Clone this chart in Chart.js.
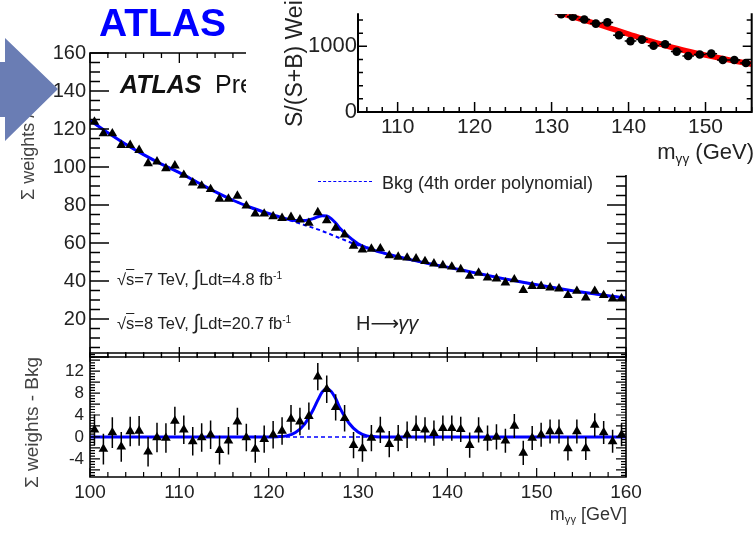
<!DOCTYPE html>
<html><head><meta charset="utf-8">
<script src="https://cdn.jsdelivr.net/npm/chart.js@4.4.1/dist/chart.umd.min.js"></script>
<style>
html,body{margin:0;padding:0;background:#fff;}
#stage{position:relative;width:756px;height:534px;overflow:hidden;font-family:"Liberation Sans",Arial,Helvetica,sans-serif;color:#222;background:#fff;}
canvas{position:absolute;left:0;top:0;}
.t{position:absolute;white-space:nowrap;}
.rot{transform:rotate(-90deg);transform-origin:left top;}
.sup{font-size:0.62em;vertical-align:0.55em;line-height:0;}
.sub{font-size:0.62em;vertical-align:-0.3em;line-height:0;}
.ov{text-decoration:overline;}
</style></head>
<body><div id="stage">
<canvas id="cTop" width="756" height="534" style="width:756px;height:534px;z-index:1"></canvas>
<canvas id="cBot" width="756" height="534" style="width:756px;height:534px;z-index:1"></canvas>

<div class="t rot" style="left:19px;top:200px;font-size:18px;line-height:18px;color:#444;z-index:2">Σ weights / GeV</div>
<div class="t rot" style="left:22px;top:488px;font-size:19px;line-height:19px;color:#444;z-index:2">Σ weights - Bkg</div>
<div class="t" style="right:129px;top:505px;font-size:18px;line-height:18px;color:#333;z-index:2">m<span class="sub">γγ</span> [GeV]</div>

<div class="t" style="left:120px;top:72px;font-size:25px;line-height:25px;color:#111;z-index:2"><b><i>ATLAS</i></b></div>
<div class="t" style="left:215px;top:72px;font-size:25px;line-height:25px;color:#111;z-index:2">Preliminary</div>

<div class="t" style="left:117px;top:271px;font-size:16.5px;line-height:17px;color:#222;z-index:2">√<span class="ov">s</span>=7 TeV, <span style="font-size:1.25em;line-height:0">∫</span>Ldt=4.8 fb<span class="sup">-1</span></div>
<div class="t" style="left:117px;top:315px;font-size:16.5px;line-height:17px;color:#222;z-index:2">√<span class="ov">s</span>=8 TeV, <span style="font-size:1.25em;line-height:0">∫</span>Ldt=20.7 fb<span class="sup">-1</span></div>
<div class="t" style="left:356px;top:313px;font-size:20px;line-height:20px;color:#222;z-index:2">H<span style="font-family:'DejaVu Sans';letter-spacing:-1px">⟶</span><i>γγ</i></div>

<div class="t" style="left:318px;top:181px;width:54px;height:0;border-top:1.5px dashed #0000ff;z-index:2"></div>
<div class="t" style="left:382px;top:174px;font-size:18px;line-height:18px;color:#222;z-index:2">Bkg (4th order polynomial)</div>

<div id="inset" style="position:absolute;left:246px;top:0;width:510px;height:175px;background:#fff;overflow:hidden;z-index:3">
  <canvas id="cIns" width="510" height="175" style="width:510px;height:175px"></canvas>
  <div class="t rot" style="left:37px;top:127px;font-size:23px;line-height:23px;color:#222">S/(S+B) Weighted Events / 1.5 GeV</div>
  <div class="t" style="right:2px;top:141px;font-size:22px;line-height:22px;color:#222">m<span class="sub">γγ</span> (GeV)</div>
</div>

<svg style="position:absolute;left:0;top:0;z-index:4" width="70" height="160">
  <polygon points="0,62 5,62 5,38 58,89 5,141 5,117 0,117" fill="#6a7db4"/>
</svg>
<div class="t" style="left:99px;top:3px;font-size:39px;line-height:39px;font-weight:bold;color:#0000ff;z-index:4">ATLAS</div>
</div>

<script>
// ---------------- data ----------------
const massBins = [100.5,101.5,102.5,103.5,104.5,105.5,106.5,107.5,108.5,109.5,
  110.5,111.5,112.5,113.5,114.5,115.5,116.5,117.5,118.5,119.5,
  120.5,121.5,122.5,123.5,124.5,125.5,126.5,127.5,128.5,129.5,
  130.5,131.5,132.5,133.5,134.5,135.5,136.5,137.5,138.5,139.5,
  140.5,141.5,142.5,143.5,144.5,145.5,146.5,147.5,148.5,149.5,
  150.5,151.5,152.5,153.5,154.5,155.5,156.5,157.5,158.5,159.5];
const sumWeights = [123.7,117.6,117.6,111.5,111.5,108.9,101.9,102.8,99.3,100.7,
  95.8,91.8,90.1,88.3,83.2,83.2,84.8,79.6,75.4,75.4,
  74.0,73.1,73.6,72.3,70.5,76.1,71.9,67.9,64.4,58.5,
  56.5,56.9,57.1,53.4,52.7,52.2,51.8,50.4,49.1,48.2,
  47.5,46.1,42.6,44.3,41.7,41.2,39.1,40.8,35.2,37.3,
  37.3,36.5,36.0,32.5,34.7,31.2,34.7,32.5,30.7,30.7];
const residuals = [1.3,-2.2,0.8,-1.8,1.0,1.1,-2.7,-0.1,-0.2,2.9,
  1.3,-0.8,-0.1,0.4,-2.4,-0.7,2.8,-0.1,-2.2,-0.4,
  0.4,1.1,3.3,2.8,3.8,11.0,8.7,5.4,3.4,-1.5,
  -2.1,-0.2,1.3,-1.3,-0.2,0.4,1.6,1.3,0.7,1.6,
  1.6,1.4,-1.5,1.3,-0.2,0.0,-0.7,2.0,-2.9,-0.2,
  0.4,1.0,1.0,-2.1,1.0,-2.1,2.2,0.8,-0.8,0.4];
const binErrors = [2.8,2.8,2.8,2.7,2.7,2.7,2.7,2.7,2.7,2.6,
  2.6,2.6,2.6,2.6,2.6,2.5,2.5,2.5,2.5,2.5,
  2.5,2.5,2.5,2.5,2.5,2.5,2.5,2.4,2.4,2.4,
  2.4,2.4,2.4,2.4,2.4,2.4,2.3,2.3,2.3,2.3,
  2.3,2.3,2.3,2.3,2.3,2.3,2.2,2.2,2.2,2.2,
  2.2,2.2,2.2,2.2,2.2,2.1,2.1,2.1,2.1,2.1];

const bkgX = [100,102,104,106,108,110,112,114,116,118,120,122,124,126,128,130,132,134,136,138,140,142,144,146,148,150,152,154,156,158,160];
const bkgY = [124.5,118,112,106.5,101.5,97,92,87,82.5,78.7,75.5,72.5,69.5,66.3,62.5,58.8,55.8,53.3,51.1,49.1,47.3,45.4,43.4,41.5,39.7,38,36.4,34.9,33.5,32.2,31];

const sbX = [100,102,104,106,108,110,112,114,116,118,120,121,122,123,124,125,125.5,126,126.5,127,127.5,128,129,130,131,132,134,136,138,140,142,144,146,148,150,152,154,156,158,160];
const sbY = [124.5,118,112,106.5,101.5,97,92,87,82.5,78.7,75.5,74.1,72.7,71.8,71.8,72.8,73.8,74.4,74.2,72.8,70.5,67.6,63.2,59.6,57.5,55.85,53.3,51.1,49.1,47.3,45.4,43.4,41.5,39.7,38,36.4,34.9,33.5,32.2,31];

const sigX = [100,120,121,122,123,124,125,125.5,126,126.5,127,127.5,128,129,130,131,132,133,160];
const sigY = [0,0,0.05,0.2,0.8,2.3,5.0,6.7,8.2,8.8,8.3,7.0,5.2,2.5,0.9,0.2,0.05,0,0];
const zeroX = [100,160];
const zeroY = [0,0];

const yTicksTop = [20,40,60,80,100,120,140,160];
const yTicksBot = [-4,0,4,8,12];
const xTicksMass = [100,110,120,130,140,150,160];

// inset (S/(S+B) weighted)
const insMass = [131.25,132.75,134.25,135.75,137.25,138.75,140.25,141.75,143.25,144.75,146.25,147.75,149.25,150.75,152.25,153.75,155.25];
const insW = [1489,1453,1409,1347,1365,1169,1080,1103,1009,1032,920,853,876,889,792,792,747];
const insErr = [45,45,44,44,44,42,42,42,40,40,40,38,38,38,36,36,36];
const insHalfBin = [0.75,0.75,0.75,0.75,0.75,0.75,0.75,0.75,0.75,0.75,0.75,0.75,0.75,0.75,0.75,0.75,0.75];
const insFitX = [128,130,132,134,136,138,140,142,144,146,148,150,152,154,156,158];
const insFitY = [1610,1545,1478,1408,1337,1263,1188,1110,1040,975,918,866,818,772,728,690];
const insTicksX = [110,120,130,140,150];
const insTicksY = [0,1000];

// ---------------- helpers ----------------
const FONT = '"Liberation Sans", Arial, Helvetica, sans-serif';
const pts = (xs, ys) => xs.map((x, i) => ({x: x, y: ys[i]}));
const plain = v => String(v);
function steps(a, b, s){ const o=[]; for(let v=a; v<=b+1e-9; v+=s) o.push(Math.round(v*1000)/1000); return o; }

const rootFrame = {
  id: 'rootFrame',
  afterDatasetsDraw(chart, args, o){
    if(!o || !o.on) return;
    const ctx = chart.ctx, a = chart.chartArea, sx = chart.scales.x, sy = chart.scales.y;
    ctx.save();
    ctx.strokeStyle = '#000';
    ctx.lineWidth = o.tickWidth;
    ctx.beginPath();
    const xt = (vals, len) => vals.forEach(v => {
      const p = sx.getPixelForValue(v);
      if (p < a.left - 0.5 || p > a.right + 0.5) return;
      if (o.bottom) { ctx.moveTo(p, a.bottom); ctx.lineTo(p, a.bottom - len); }
      if (o.top) { ctx.moveTo(p, a.top); ctx.lineTo(p, a.top + len); }
    });
    const yt = (vals, len) => vals.forEach(v => {
      const p = sy.getPixelForValue(v);
      if (p < a.top - 0.5 || p > a.bottom + 0.5) return;
      if (o.left) { ctx.moveTo(a.left, p); ctx.lineTo(a.left + len, p); }
      if (o.right) { ctx.moveTo(a.right, p); ctx.lineTo(a.right - len, p); }
    });
    xt(o.xMinor, o.xMinorLen); xt(o.xMajor, o.xMajorLen);
    yt(o.yMinor, o.yMinorLen); yt(o.yMajor, o.yMajorLen);
    ctx.stroke();
    ctx.lineWidth = o.frameWidth;
    ctx.lineCap = 'square';
    ctx.beginPath();
    if (o.left) { ctx.moveTo(a.left, a.top); ctx.lineTo(a.left, a.bottom); }
    if (o.right) { ctx.moveTo(a.right, a.top); ctx.lineTo(a.right, a.bottom); }
    if (o.bottom) { ctx.moveTo(a.left, a.bottom); ctx.lineTo(a.right, a.bottom); }
    if (o.top) { ctx.moveTo(a.left, a.top); ctx.lineTo(a.right, a.top); }
    ctx.stroke();
    ctx.restore();
  }
};

const errBars = {
  id: 'errBars',
  afterDatasetsDraw(chart, args, o){
    if(!o || !o.sets) return;
    const ctx = chart.ctx, a = chart.chartArea, sx = chart.scales.x, sy = chart.scales.y;
    ctx.save();
    ctx.beginPath(); ctx.rect(a.left, a.top, a.right - a.left, a.bottom - a.top); ctx.clip();
    ctx.strokeStyle = o.color || '#000'; ctx.lineWidth = o.width || 1.5;
    ctx.beginPath();
    o.sets.forEach(s => {
      s.x.forEach((xv, i) => {
        const px = sx.getPixelForValue(xv), py = sy.getPixelForValue(s.y[i]);
        const e = s.yErr[i];
        ctx.moveTo(px, sy.getPixelForValue(s.y[i] - e));
        ctx.lineTo(px, sy.getPixelForValue(s.y[i] + e));
        if (s.xErr) {
          ctx.moveTo(sx.getPixelForValue(xv - s.xErr[i]), py);
          ctx.lineTo(sx.getPixelForValue(xv + s.xErr[i]), py);
        }
      });
    });
    ctx.stroke();
    ctx.restore();
  }
};

const baseOpts = { responsive:false, animation:false, events:[], devicePixelRatio:1 };

// ---------------- upper panel ----------------
new Chart(document.getElementById('cTop'), {
  type: 'scatter',
  data: { datasets: [
    { label:'Data', data: pts(massBins, sumWeights), showLine:false, pointStyle:'triangle', pointRadius:5.6,
      pointBackgroundColor:'#000', pointBorderColor:'#000', pointBorderWidth:0 },
    { label:'Sig+Bkg Fit', data: pts(sbX, sbY), showLine:true, borderColor:'#0000ff', borderWidth:3,
      pointRadius:0, cubicInterpolationMode:'monotone' },
    { label:'Bkg (4th order polynomial)', data: pts(bkgX, bkgY), showLine:true, borderColor:'#0000ff', borderWidth:2,
      borderDash:[4,3], pointRadius:0, cubicInterpolationMode:'monotone' }
  ]},
  options: Object.assign({}, baseOpts, {
    layout: { padding: { left:40, top:53, right:130, bottom:177 } },
    scales: {
      x: { type:'linear', min:100, max:160, display:false },
      y: { type:'linear', min:0, max:160,
           afterBuildTicks: s => { s.ticks = yTicksTop.map(v => ({value:v})); },
           afterFit: s => { s.width = 50; },
           grid:{display:false, drawTicks:false}, border:{display:false},
           ticks:{ font:{family:FONT, size:20}, color:'#222', padding:4, callback: plain } }
    },
    plugins: {
      legend:{display:false}, tooltip:{enabled:false},
      rootFrame:{ on:true, left:true, right:true, top:true, bottom:true, frameWidth:1.6, tickWidth:1.3,
        xMajor: xTicksMass, xMajorLen:10, xMinor: steps(100,160,2), xMinorLen:5,
        yMajor: steps(0,160,20), yMajorLen:19, yMinor: steps(0,160,5), yMinorLen:10 }
    }
  }),
  plugins:[rootFrame]
});

// ---------------- lower panel ----------------
new Chart(document.getElementById('cBot'), {
  type: 'scatter',
  data: { datasets: [
    { label:'Data - Bkg', data: pts(massBins, residuals), showLine:false, pointStyle:'triangle', pointRadius:5.6,
      pointBackgroundColor:'#000', pointBorderColor:'#000', pointBorderWidth:0 },
    { label:'Signal', data: pts(sigX, sigY), showLine:true, borderColor:'#0000ff', borderWidth:3,
      pointRadius:0, cubicInterpolationMode:'monotone' },
    { label:'Bkg', data: pts(zeroX, zeroY), showLine:true, borderColor:'#0000ff', borderWidth:1.6,
      borderDash:[4,3], pointRadius:0 }
  ]},
  options: Object.assign({}, baseOpts, {
    layout: { padding: { left:40, top:353, right:130, bottom:17 } },
    scales: {
      x: { type:'linear', min:100, max:160,
           afterBuildTicks: s => { s.ticks = xTicksMass.map(v => ({value:v})); },
           afterFit: s => { s.height = 40; },
           grid:{display:false, drawTicks:false}, border:{display:false},
           ticks:{ font:{family:FONT, size:19}, color:'#222', padding:4, autoSkip:false, maxRotation:0, callback: plain } },
      y: { type:'linear', min:-7.3, max:15.3,
           afterBuildTicks: s => { s.ticks = yTicksBot.map(v => ({value:v})); },
           afterFit: s => { s.width = 50; },
           grid:{display:false, drawTicks:false}, border:{display:false},
           ticks:{ font:{family:FONT, size:17}, color:'#222', padding:6, callback: plain } }
    },
    plugins: {
      legend:{display:false}, tooltip:{enabled:false},
      rootFrame:{ on:true, left:true, right:true, top:true, bottom:true, frameWidth:1.6, tickWidth:1.2,
        xMajor: xTicksMass, xMajorLen:9, xMinor: steps(100,160,2), xMinorLen:5,
        yMajor: steps(-6,14,2), yMajorLen:10, yMinor: steps(-7,15,0.5), yMinorLen:5 },
      errBars:{ sets:[{x:massBins, y:residuals, yErr:binErrors}], width:1.5 }
    }
  }),
  plugins:[rootFrame, errBars]
});

// ---------------- inset ----------------
new Chart(document.getElementById('cIns'), {
  type: 'scatter',
  data: { datasets: [
    { label:'Data S/(S+B) weighted', data: pts(insMass, insW), showLine:false, pointStyle:'circle', pointRadius:4.3,
      pointBackgroundColor:'#000', pointBorderColor:'#000', pointBorderWidth:0 },
    { label:'S+B fit', data: pts(insFitX, insFitY), showLine:true, borderColor:'#ff0000', borderWidth:5.5,
      pointRadius:0, cubicInterpolationMode:'monotone' }
  ]},
  options: Object.assign({}, baseOpts, {
    layout: { padding: { left:52, top:0, right:2, bottom:0 } },
    scales: {
      x: { type:'linear', min:104.85, max:156.0,
           afterBuildTicks: s => { s.ticks = insTicksX.map(v => ({value:v})); },
           afterFit: s => { s.height = 63; },
           grid:{display:false, drawTicks:false}, border:{display:false},
           ticks:{ font:{family:FONT, size:21}, color:'#222', padding:3, autoSkip:false, maxRotation:0, callback: plain } },
      y: { type:'linear', min:0, max:1490,
           afterBuildTicks: s => { s.ticks = insTicksY.map(v => ({value:v})); },
           afterFit: s => { s.width = 60; },
           grid:{display:false, drawTicks:false}, border:{display:false},
           ticks:{ font:{family:FONT, size:22}, color:'#222', padding:1, callback: plain } }
    },
    plugins: {
      legend:{display:false}, tooltip:{enabled:false},
      rootFrame:{ on:true, left:true, right:true, top:false, bottom:true, frameWidth:2, tickWidth:1.5,
        xMajor: insTicksX, xMajorLen:10, xMinor: steps(106,156,2), xMinorLen:5,
        yMajor: insTicksY, yMajorLen:9, yMinor: steps(0,1400,200), yMinorLen:5 },
      errBars:{ sets:[{x:insMass, y:insW, yErr:insErr, xErr:insHalfBin}], width:1.5 }
    }
  }),
  plugins:[rootFrame, errBars]
});
</script>
</body></html>
